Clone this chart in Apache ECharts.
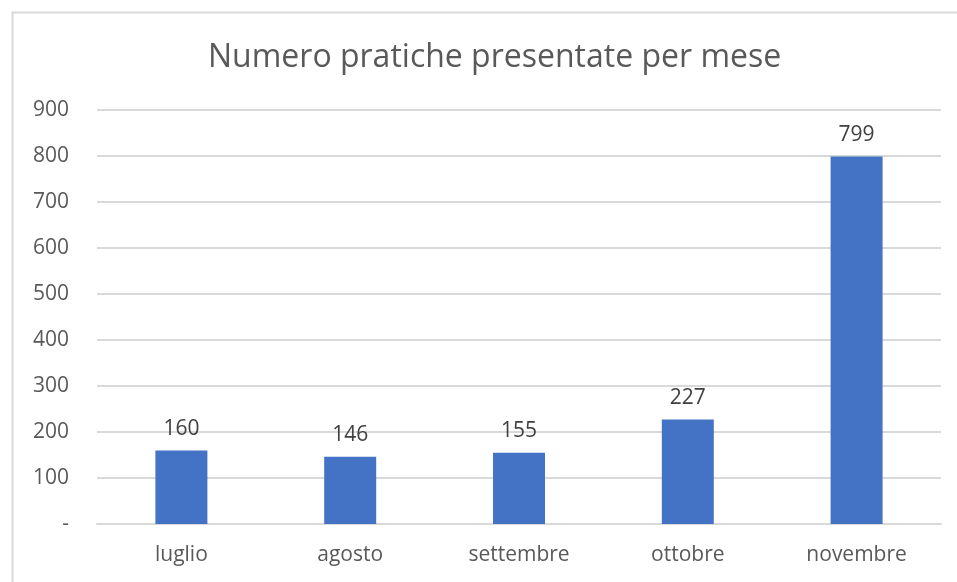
<!DOCTYPE html>
<html><head><meta charset="utf-8">
<script src="https://cdn.jsdelivr.net/npm/echarts@6/dist/echarts.min.js"></script>
<style>html,body{margin:0;padding:0;background:#fff}#c{width:957px;height:582px}</style>
</head><body><div id="c"></div>
<script>
const titleText = "Numero pratiche presentate per mese";
const categories = ["luglio", "agosto", "settembre", "ottobre", "novembre"];
const values = [160, 146, 155, 227, 799];
const yMin = 0, yMax = 900, yStep = 100;

const FONT = "Open Sans";
const chart = echarts.init(document.getElementById('c'));
chart.setOption({
  animation: false,
  backgroundColor: '#fff',
  graphic: [{
    type: 'rect', left: 10, top: 10,
    shape: {x: 0, y: 0, width: 980, height: 600},
    style: {fill: 'none', stroke: '#d9d9d9', lineWidth: 2}, silent: true
  }],
  title: {
    text: titleText, left: 203, top: 37,
    textStyle: {fontFamily: FONT, fontSize: 32, fontWeight: 'normal', color: '#595959'}
  },
  grid: {left: 97, right: 16, top: 110, bottom: 58},
  xAxis: {
    type: 'category', data: categories,
    axisLine: {lineStyle: {color: '#d9d9d9', width: 2}},
    axisTick: {show: false},
    axisLabel: {fontFamily: FONT, fontSize: 21, color: '#595959', margin: 21}
  },
  yAxis: {
    type: 'value', min: yMin, max: yMax, interval: yStep,
    axisLine: {show: false}, axisTick: {show: false},
    splitLine: {lineStyle: {color: '#d9d9d9', width: 2}},
    axisLabel: {fontFamily: FONT, fontSize: 21, color: '#595959', margin: 28,
      formatter: v => v === 0 ? '-' : String(v)}
  },
  series: [{
    type: 'bar', data: values, barWidth: 52,
    itemStyle: {color: '#4472C4'},
    label: {show: true, position: 'top', distance: 11, fontFamily: FONT, fontSize: 21, color: '#404040'}
  }]
});
</script></body></html>
